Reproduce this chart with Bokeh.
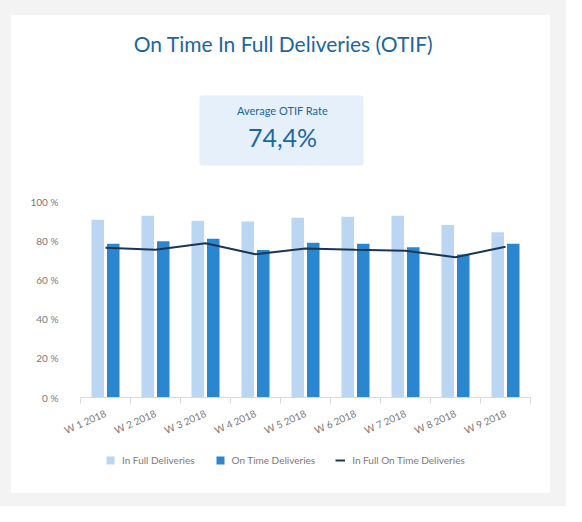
from bokeh.plotting import figure
from bokeh.layouts import column, row
from bokeh.models import (Range1d, FixedTicker, BoxAnnotation, Label, Legend,
                          LegendItem, ColumnDataSource, Spacer)
from bokeh.transform import dodge
from bokeh.embed import file_html
from bokeh.resources import INLINE

# data
weeks = ["W 1 2018", "W 2 2018", "W 3 2018", "W 4 2018", "W 5 2018",
         "W 6 2018", "W 7 2018", "W 8 2018", "W 9 2018"]
in_full = [90.7, 92.7, 90.2, 89.8, 91.7, 92.2, 92.7, 88.0, 84.3]
on_time = [78.4, 79.7, 81.0, 75.2, 78.9, 78.4, 76.6, 73.0, 78.4]
otif = [76.4, 75.4, 78.7, 73.1, 76.0, 75.4, 74.9, 71.6, 76.9]
y_ticks = [0, 20, 40, 60, 80, 100]

title_text = "On Time In Full Deliveries (OTIF)"
kpi_label = "Average OTIF Rate"
kpi_value = "74,4%"
series_names = ["In Full Deliveries", "On Time Deliveries", "In Full On Time Deliveries"]

FONT = "Lato"
LIGHT = "#bad6f2"
DARK = "#2a87cf"
NAVY = "#1a3656"
TEXT_BLUE = "#1c66a0"
GREY = "#7a7a7a"
PAGE_BG = "#f3f3f3"

CARD_W = 539
LEFT, RIGHT = 69, 20   # plot frame borders, shared by every strip of the card


def blank(height):
    # strip with no axes; x is measured in card pixels, y downwards
    f = figure(width=CARD_W, height=height, x_range=Range1d(LEFT, CARD_W - RIGHT),
               y_range=Range1d(height, 0), x_axis_location=None, y_axis_location=None,
               min_border_left=LEFT, min_border_right=RIGHT,
               min_border_top=0, min_border_bottom=0,
               output_backend="svg", toolbar_location=None,
               border_fill_color="white", background_fill_color="white",
               outline_line_color=None)
    f.xgrid.visible = False
    f.ygrid.visible = False
    return f


# header: title + KPI box
head = blank(165)
head.add_layout(BoxAnnotation(left=188, right=352, top=80, bottom=150,
                              fill_color="#e5f0fb", fill_alpha=1, line_color=None,
                              border_radius=3))
head.add_layout(Label(x=272, y=28, text=title_text, text_align="center",
                      text_baseline="middle", text_font=FONT, text_font_size="21px",
                      text_color=TEXT_BLUE))
head.add_layout(Label(x=271, y=95, text=kpi_label, text_align="center",
                      text_baseline="middle", text_font=FONT, text_font_size="11px",
                      text_color=TEXT_BLUE))
head.add_layout(Label(x=271, y=121, text=kpi_value, text_align="center",
                      text_baseline="middle", text_font=FONT, text_font_size="25px",
                      text_color=TEXT_BLUE))

# main chart
pos = list(range(len(weeks)))
src = ColumnDataSource(data=dict(x=pos, in_full=in_full, on_time=on_time, otif=otif))

p = figure(width=CARD_W, height=264,
           x_range=Range1d(-0.5, len(weeks) - 0.5), y_range=Range1d(0, 100),
           output_backend="svg", toolbar_location=None,
           min_border_left=LEFT, min_border_right=RIGHT,
           min_border_top=21, min_border_bottom=45,
           border_fill_color="white", background_fill_color="white",
           outline_line_color=None)
p.xgrid.visible = False
p.ygrid.visible = False

p.vbar(x=dodge("x", -0.155, range=p.x_range), top="in_full", width=0.25,
       source=src, fill_color=LIGHT, line_color=None)
p.vbar(x=dodge("x", 0.155, range=p.x_range), top="on_time", width=0.25,
       source=src, fill_color=DARK, line_color=None)
p.line(x="x", y="otif", source=src, line_color=NAVY, line_width=2)

xa = p.xaxis[0]
xa.ticker = FixedTicker(ticks=pos, minor_ticks=[i - 0.5 for i in range(len(weeks) + 1)])
xa.major_label_overrides = {i: w for i, w in enumerate(weeks)}
xa.major_tick_line_color = None
xa.major_tick_in = 0
xa.major_tick_out = 0
xa.minor_tick_line_color = "#d9d9d9"
xa.minor_tick_in = 0
xa.minor_tick_out = 6
xa.axis_line_color = "#d9d9d9"
xa.major_label_orientation = 0.42
xa.major_label_standoff = 9
xa.major_label_text_font = FONT
xa.major_label_text_font_size = "10px"
xa.major_label_text_color = GREY

ya = p.yaxis[0]
ya.ticker = FixedTicker(ticks=y_ticks)
ya.major_label_overrides = {t: f"{t} %" for t in y_ticks}
ya.axis_line_color = None
ya.major_tick_line_color = None
ya.major_tick_in = 0
ya.major_tick_out = 0
ya.minor_tick_line_color = None
ya.major_label_standoff = 22
ya.major_label_text_font = FONT
ya.major_label_text_font_size = "10px"
ya.major_label_text_color = GREY

# legend strip: off-screen stand-in renderers carry the legend styles
leg = blank(49)
stub = ColumnDataSource(data=dict(x=[-1000], top=[0]))
g1 = leg.vbar(x="x", top="top", width=1, source=stub, fill_color=LIGHT, line_color=None)
g2 = leg.vbar(x="x", top="top", width=1, source=stub, fill_color=DARK, line_color=None)
g3 = leg.line(x="x", y="top", source=stub, line_color=NAVY, line_width=2)
legend = Legend(items=[LegendItem(label=series_names[0], renderers=[g1]),
                       LegendItem(label=series_names[1], renderers=[g2]),
                       LegendItem(label=series_names[2], renderers=[g3])],
                orientation="horizontal", location=(25, 27),
                border_line_color=None, background_fill_alpha=0,
                label_text_font=FONT, label_text_font_size="10px",
                label_text_color=GREY, glyph_width=10, glyph_height=10,
                label_height=10, label_standoff=7, spacing=20,
                padding=0, margin=0)
leg.add_layout(legend)

card = column(head, p, leg, spacing=0, styles={"background-color": "white"})
page = row(Spacer(width=11), column(Spacer(height=15), card, Spacer(height=13), spacing=0),
           Spacer(width=16), spacing=0, styles={"background-color": PAGE_BG})

open("out.html", "w").write(file_html(page, INLINE))
